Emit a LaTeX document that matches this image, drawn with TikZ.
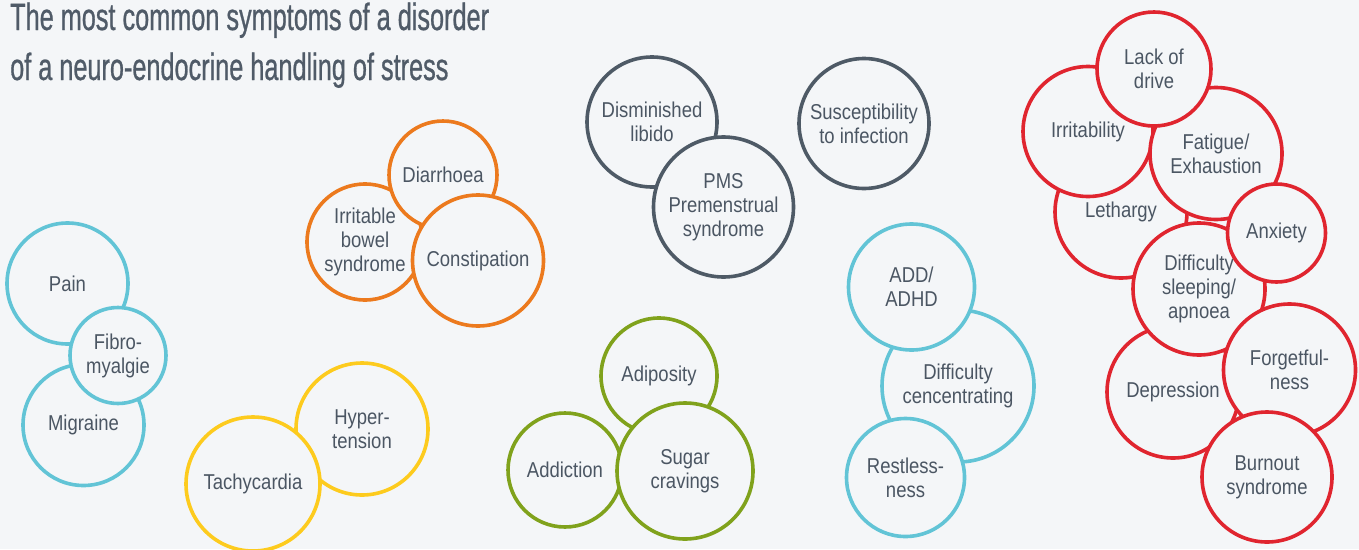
\documentclass[tikz,border=0pt]{standalone}
\usepackage{fontspec}
\setmainfont{Liberation Sans}[FakeStretch=0.86]
\newfontfamily\titlefont{Liberation Sans}[FakeStretch=0.665,FakeBold=0.7]
\definecolor{bgc}{HTML}{F4F6F8}
\definecolor{txtc}{HTML}{4B5663}
\definecolor{titlec}{HTML}{505B68}
\definecolor{cyanc}{HTML}{62C4D6}
\definecolor{orangec}{HTML}{EC7A1E}
\definecolor{darkc}{HTML}{4E5A66}
\definecolor{greenc}{HTML}{80A21C}
\definecolor{yellowc}{HTML}{FDCB1E}
\definecolor{redc}{HTML}{E0252F}
\begin{document}
\begin{tikzpicture}[x=1pt,y=-1pt,
  bub/.style={circle, draw=#1, fill=bgc, line width=3.6pt, inner sep=0pt,
    align=center, text=txtc, font=\fontsize{21.5}{24}\selectfont},
  ttl/.style={anchor=base west, inner sep=0pt, text=titlec,
    font=\titlefont\fontsize{38}{46}\selectfont}]
\useasboundingbox (0,0) rectangle (1359,549);
\fill[bgc] (0,0) rectangle (1359,549);
% title
\node[ttl] (title1) at (10,30) {The most common symptoms of a disorder};
\node[ttl] (title2) at (10,80) {of a neuro-endocrine handling of stress};
% left cyan group
\node[bub=cyanc, minimum size=121] (pain) at (67.5,283.5) {Pain};
\node[bub=cyanc, minimum size=121] (migraine) at (83.5,425) {Migraine};
\node[bub=cyanc, minimum size=96] (fibro) at (118,355.5) {Fibro-\\myalgie};
% orange group
\node[bub=orangec, minimum size=116] (ibs) at (365,242) {Irritable\\bowel\\syndrome};
\node[bub=orangec, minimum size=108] (diarrhoea) at (443,175) {Diarrhoea};
\node[bub=orangec, minimum size=131] (constipation) at (478,260.5) {Constipation};
% yellow group
\node[bub=yellowc, minimum size=132] (hyper) at (362,429) {Hyper-\\tension};
\node[bub=yellowc, minimum size=134] (tachy) at (253,484) {Tachycardia};
% dark group
\node[bub=darkc, minimum size=130] (libido) at (652,122) {Disminished\\libido};
\node[bub=darkc, minimum size=140] (pms) at (723.5,207) {PMS\\Premenstrual\\syndrome};
\node[bub=darkc, minimum size=130] (infection) at (864,123.5) {Susceptibility\\to infection};
% green group
\node[bub=greenc, minimum size=116] (adiposity) at (659,376) {Adiposity};
\node[bub=greenc, minimum size=114] (addiction) at (565,470) {Addiction};
\node[bub=greenc, minimum size=136] (sugar) at (685,471) {Sugar\\cravings};
% middle cyan group
\node[bub=cyanc, minimum size=152] (concentr) at (958,386) {Difficulty\\cencentrating};
\node[bub=cyanc, minimum size=126] (add) at (911.5,287) {ADD/\\ADHD};
\node[bub=cyanc, minimum size=118] (restless) at (905.5,477.5) {Restless-\\ness};
% red group
\node[bub=redc, minimum size=132] (lethargy) at (1121,212) {Lethargy};
\node[bub=redc, minimum size=130] (irrit) at (1088,131.5) {Irritability};
\node[bub=redc, minimum size=132] (fatigue) at (1216,153.5) {Fatigue/\\Exhaustion};
\node[bub=redc, minimum size=114] (lack) at (1154,69) {Lack of\\drive};
\node[bub=redc, minimum size=132] (depression) at (1173,392) {Depression};
\node[bub=redc, minimum size=132] (sleeping) at (1199,289) {Difficulty\\sleeping/\\apnoea};
\node[bub=redc, minimum size=98] (anxiety) at (1276.5,233) {Anxiety};
\node[bub=redc, minimum size=132] (forget) at (1289.5,370) {Forgetful-\\ness};
\node[bub=redc, minimum size=130] (burnout) at (1267,477) {Burnout\\syndrome};
\end{tikzpicture}
\end{document}
